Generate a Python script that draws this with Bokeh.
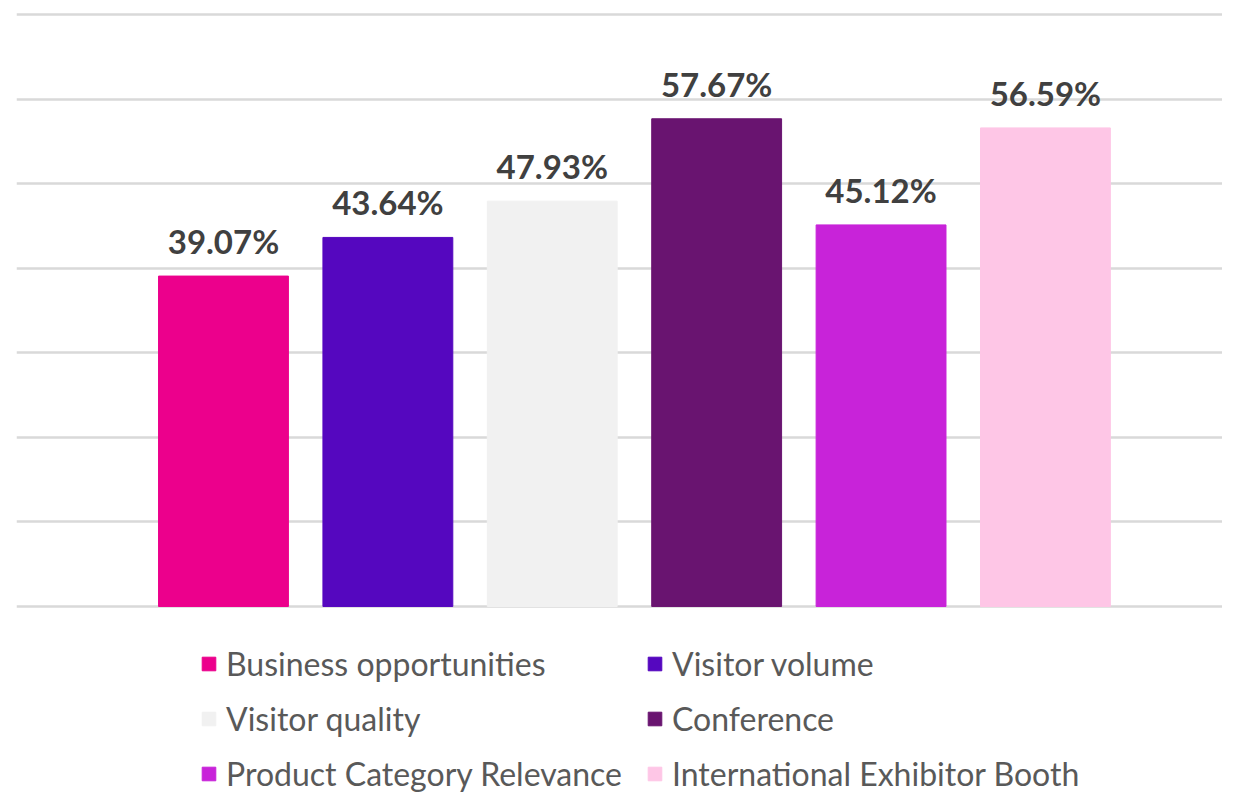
from bokeh.plotting import figure
from bokeh.models import Range1d, FixedTicker, ColumnDataSource, Legend, LegendItem, Grid
from bokeh.core.properties import value
from bokeh.embed import file_html
from bokeh.resources import INLINE

categories = ["Business opportunities", "Visitor volume", "Visitor quality",
              "Conference", "Product Category Relevance", "International Exhibitor Booth"]
values = [39.07, 43.64, 47.93, 57.67, 45.12, 56.59]
colors = ["#EC008C", "#5507BF", "#F1F1F1", "#691470", "#C823D9", "#FEC6E6"]
labels = [f"{v:.2f}%" for v in values]
grid_ticks = [0, 10, 20, 30, 40, 50, 60, 70]

positions = list(range(len(categories)))
src = ColumnDataSource(dict(x=positions, top=values, color=colors, label=labels, cat=categories))

p = figure(width=1222, height=796, output_backend="svg", toolbar_location=None,
           x_range=Range1d(-1.259, 6.077), y_range=Range1d(-22.47, 70.71),
           x_axis_location=None, y_axis_location=None,
           min_border_left=16, min_border_right=0, min_border_top=8, min_border_bottom=0)
p.outline_line_color = None
p.xgrid.visible = False
p.ygrid.visible = False

grid = Grid(dimension=1, ticker=FixedTicker(ticks=grid_ticks),
            grid_line_color="#D9D9D9", grid_line_width=2.5)
p.add_layout(grid)

bars = p.vbar(x="x", top="top", bottom=0, width=0.79, color="color", source=src)

p.text(x="x", y="top", text="label", source=src, text_font=value("Lato"),
       text_font_style="bold", text_font_size="33px", text_color="#404040",
       text_align="center", text_baseline="bottom", y_offset=-15)

order1 = [0, 2, 4]
order2 = [1, 3, 5]

def make_legend(idxs, loc):
    items = [LegendItem(label=categories[i], renderers=[bars], index=i) for i in idxs]
    lg = Legend(items=items, location=loc, orientation="vertical",
                background_fill_alpha=0, border_line_alpha=0, padding=0, margin=0,
                glyph_width=17, glyph_height=17, label_standoff=9, spacing=16,
                label_text_font="Lato", label_text_font_size="32px",
                label_text_color="#595959")
    return lg

p.add_layout(make_legend(order1, (184, 3)))
p.add_layout(make_legend(order2, (630, 3)))

open("out.html", "w").write(file_html(p, INLINE))
